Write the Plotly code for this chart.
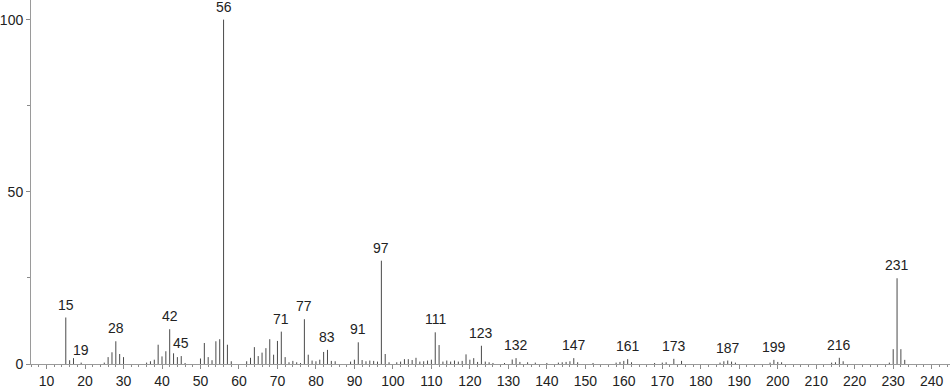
import plotly.graph_objects as go

mz = [15, 16, 17, 19, 25, 26, 27, 28, 29, 30, 36, 37, 38, 39, 40, 41, 42, 43, 44, 45, 46,
      50, 51, 52, 53, 54, 55, 56, 57, 58, 62, 63, 64, 65, 66, 67, 68, 69, 70, 71, 72, 73,
      74, 75, 76, 77, 78, 79, 80, 81, 82, 83, 84, 85, 89, 90, 91, 92, 93, 94, 95, 96, 97,
      98, 99, 101, 102, 103, 104, 105, 106, 107, 108, 109, 110, 111, 112, 113, 114, 115,
      116, 117, 118, 119, 120, 121, 122, 123, 124, 125, 126, 129, 131, 132, 133, 135, 137,
      140, 143, 144, 145, 146, 147, 148, 152, 158, 159, 160, 161, 162, 168, 170, 171, 173,
      175, 185, 186, 187, 188, 189, 198, 199, 200, 201, 214, 215, 216, 217, 229, 230, 231,
      232, 233]
intensity = [13.5, 1.1, 1.7, 0.4, 0.4, 2.0, 3.4, 6.6, 2.9, 2.0, 0.4, 0.8, 1.25, 5.6, 2.2,
             3.7, 10.1, 3.1, 2.0, 2.3, 0.3,
             1.6, 6.1, 2.0, 1.1, 6.6, 7.2, 100.0, 5.6, 0.8, 0.8, 1.8, 4.9, 2.3, 3.3, 4.6,
             7.2, 2.7, 6.7, 9.4, 2.0, 0.5,
             0.9, 0.5, 0.3, 13.0, 2.7, 1.0, 0.8, 1.25, 3.5, 4.1, 0.9, 0.8, 0.7, 1.25, 6.3,
             1.15, 0.8, 1.0, 0.9, 0.7, 30.0,
             2.9, 0.5, 0.5, 0.7, 1.4, 1.4, 1.15, 1.8, 0.7, 0.8, 1.0, 1.25, 9.2, 5.5, 0.7,
             1.0, 0.7,
             1.0, 0.7, 0.9, 2.8, 1.25, 1.7, 0.6, 5.3, 0.7, 0.5, 0.3, 0.3, 1.3, 1.7, 0.6,
             0.5, 0.4,
             0.3, 0.4, 0.5, 0.6, 0.8, 1.7, 0.5, 0.3, 0.4, 0.6, 0.9, 1.4, 0.5, 0.3, 0.4, 0.5,
             1.5,
             0.9, 0.4, 0.8, 1.0, 0.7, 0.4, 0.4, 1.2, 0.6, 0.5, 0.4, 0.5, 1.8, 0.8, 0.4, 4.3,
             24.9,
             4.3, 1.2]

labeled_mz = [15, 19, 28, 42, 45, 56, 71, 77, 83, 91, 97, 111, 123, 132, 147, 161, 173,
              187, 199, 216, 231]

x_ticks = list(range(10, 250, 10))
y_ticks = [0, 50, 100]

FONT = "Liberation Sans, Arial, sans-serif"

# stick spectrum: one vertical segment per peak
seg_x, seg_y = [], []
for m, v in zip(mz, intensity):
    seg_x += [m, m, None]
    seg_y += [0, v, None]

lookup = dict(zip(mz, intensity))

fig = go.Figure()
fig.add_trace(go.Scatter(x=seg_x, y=seg_y, mode="lines",
                         line=dict(color="#4a4a4a", width=1),
                         hoverinfo="skip", connectgaps=False))

for m in labeled_mz:
    fig.add_annotation(x=m, y=lookup[m], text=str(m), showarrow=False,
                       xanchor="center", yanchor="bottom", yshift=3,
                       font=dict(family=FONT, size=14, color="#222222"))

fig.update_layout(
    width=951, height=389,
    margin=dict(l=29, r=1, t=0, b=22),
    paper_bgcolor="white", plot_bgcolor="white",
    showlegend=False,
    font=dict(family=FONT, size=14, color="#222222"),
)
fig.update_xaxes(
    range=[5.96, 244.76], tickvals=x_ticks, ticktext=[str(t) for t in x_ticks],
    showgrid=False, zeroline=False, showline=True, linecolor="#9a9a9a", linewidth=1,
    ticks="outside", ticklen=4, tickcolor="#8a8a8a", tickwidth=1,
    minor=dict(dtick=2, tick0=0, ticks="outside", ticklen=2, tickcolor="#8a8a8a"),
    tickfont=dict(family=FONT, size=14, color="#222222"),
)
fig.update_yaxes(
    range=[0, 105.7], tickvals=y_ticks, ticktext=[str(t) for t in y_ticks],
    showgrid=False, zeroline=False, showline=True, linecolor="#9a9a9a", linewidth=1,
    ticks="outside", ticklen=4, tickcolor="#8a8a8a", tickwidth=1,
    minor=dict(tickvals=[25, 75], ticks="outside", ticklen=3, tickcolor="#8a8a8a"),
    tickfont=dict(family=FONT, size=14, color="#222222"),
)

fig.write_html("out.html")
